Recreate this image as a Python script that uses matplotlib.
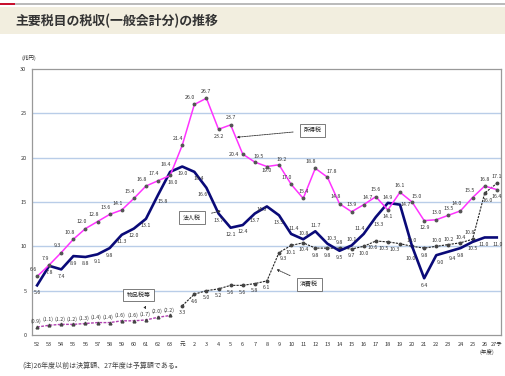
import numpy as np
import matplotlib.pyplot as plt
from matplotlib.patches import Rectangle

plt.rcParams['font.family'] = ['Noto Sans CJK JP', 'DejaVu Sans']

# 年度
years = ['52', '53', '54', '55', '56', '57', '58', '59', '60', '61', '62', '63', '元',
         '2', '3', '4', '5', '6', '7', '8', '9', '10', '11', '12', '13', '14', '15',
         '16', '17', '18', '19', '20', '21', '22', '23', '24', '25', '26', '27予']

# 所得税
income = [6.6, 7.9, 9.3, 10.8, 12.0, 12.8, 13.6, 14.1, 15.4, 16.8, 17.4, 18.0, 21.4,
          26.0, 26.7, 23.2, 23.7, 20.4, 19.5, 19.0, 19.2, 17.0, 15.4, 18.8, 17.8, 14.8, 13.9,
          14.7, 15.6, 14.1, 16.1, 15.0, 12.9, 13.0, 13.5, 14.0, 15.5, 16.8, 16.4]
# 法人税
corp = [5.6, 7.8, 7.4, 8.9, 8.8, 9.1, 9.8, 11.3, 12.0, 13.1, 15.8, 18.4, 19.0,
        18.4, 16.6, 13.7, 12.1, 12.4, 13.7, 14.5, 13.5, 11.4, 10.8, 11.7, 10.3, 9.5, 10.1,
        11.4, 13.3, 14.9, 14.7, 10.0, 6.4, 9.0, 9.4, 9.8, 10.5, 11.0, 11.0]
# 消費税 (元年度から)
cons = [3.3, 4.6, 5.0, 5.2, 5.6, 5.6, 5.8, 6.1, 9.3, 10.1, 10.4, 9.8, 9.8, 9.8, 9.7,
        10.0, 10.6, 10.5, 10.3, 10.0, 9.8, 10.0, 10.2, 10.4, 10.8, 16.0, 17.1]
# 物品税等 (63年度まで)
goods = [0.9, 1.1, 1.2, 1.2, 1.3, 1.4, 1.4, 1.6, 1.6, 1.7, 2.0, 2.2]

x = np.arange(len(years))
x_cons = x[12:]
x_goods = x[:12]

fig = plt.figure(figsize=(5.06, 3.76), dpi=100)

# タイトル帯
fig.patches.append(Rectangle((0, 1 - 34 / 376), 1, 27 / 376, transform=fig.transFigure,
                             facecolor='#F2EEDF', edgecolor='none'))
fig.patches.append(Rectangle((0, 1 - 5 / 376), 1, 2 / 376, transform=fig.transFigure,
                             facecolor='#BBBBBB', edgecolor='none'))
fig.patches.append(Rectangle((0, 1 - 5 / 376), 15 / 506, 2 / 376, transform=fig.transFigure,
                             facecolor='#C8102E', edgecolor='none'))
fig.text(15 / 506, 1 - 21 / 376, '主要税目の税収(一般会計分)の推移', fontsize=9.3,
         fontweight='bold', color='#333333', va='center')

ax = fig.add_axes([32 / 506, 1 - 335 / 376, 469 / 506, 266 / 376])
ax.set_xlim(-0.42, 38.35)
ax.set_ylim(0, 30)
ax.set_yticks([0, 5, 10, 15, 20, 25, 30])
ax.set_xticks(x)
ax.set_xticklabels(years)
ax.tick_params(labelsize=4, colors='#333333', length=0, pad=4)
ax.tick_params(axis='x', pad=5)
for s in ax.spines.values():
    s.set_color('#999999')
    s.set_linewidth(0.9)
for v in [5, 10, 15, 20, 25]:
    ax.axhline(v, color='#B9CDE8', lw=1, zorder=0)

ax.plot(x_goods, goods, color='#B040B0', lw=1, ls=(0, (2, 1)), marker='^', ms=2,
        mfc='#444444', mec='#444444', zorder=3)
ax.plot(x_cons, cons, color='#222222', lw=0.8, ls=(0, (2, 1)), marker='o', ms=1.8,
        mfc='#444444', mec='#444444', zorder=3)
ax.plot(x, corp, color='#0A0A78', lw=1.9, zorder=4)
ax.plot(x, income, color='#FF33FF', lw=1.1, marker='o', ms=1.8, mfc='#555555',
        mec='#555555', zorder=5)

fs = 3.8
tc = '#333333'


def put_labels(xs, vals, default, over, fmt='{:.1f}'):
    for i, (xi, v) in enumerate(zip(xs, vals)):
        dx, dy = over.get(i, default)
        ax.annotate(fmt.format(v), (xi, v), xytext=(dx, dy), textcoords='offset points',
                    ha='center', va='center', fontsize=fs, color=tc, zorder=6)


put_labels(x, income, (-3, 5), {
    11: (2, -5), 13: (-3, 5), 14: (0, 5), 15: (0, -5), 16: (0, 5), 17: (-6, 0),
    18: (3, 4), 19: (0, -3), 20: (2, 4), 22: (0, 5), 24: (3, 4), 26: (0, 5),
    27: (3, 5), 28: (0, 5), 29: (0, -5), 30: (0, 5), 31: (3, 4), 32: (0, -5),
    33: (0, 5), 34: (0, 5), 36: (-2, 5), 37: (0, 5), 38: (0, -5)})
put_labels(x, corp, (0, -5), {
    1: (0, -5), 3: (0, -5), 9: (0, -5), 10: (3, -5), 11: (-3, 5), 13: (3, -5),
    14: (-3, -5), 19: (-4, -2), 21: (2, 4), 22: (0, 4), 23: (0, 4), 24: (3, 4),
    26: (0, 4), 27: (-3, 4), 28: (2, -5), 29: (0, 4), 30: (4, 0), 31: (-1, -9),
    33: (3, -5), 34: (3, -5), 37: (-1, -5), 38: (1, -5)})
put_labels(x_cons, cons, (0, -5), {
    8: (3, -4), 13: (0, 4), 16: (-2, -5), 17: (-3, -5), 18: (-4, -4), 19: (0, 4),
    21: (0, 4), 22: (0, 4), 23: (0, 4), 24: (-2, 5), 25: (2, -5), 26: (0, 5)})
put_labels(x_goods, goods, (-1, 4), {}, fmt='({:.1f})')


def label_box(text, xy_box, xy_pt):
    ax.annotate(text, xy=xy_pt, xytext=xy_box, textcoords='data', fontsize=4.3,
                color='#222222', ha='center', va='center', zorder=7,
                bbox=dict(boxstyle='square,pad=0.6', fc='white', ec='#666666', lw=0.6),
                arrowprops=dict(arrowstyle='-|>', ls=(0, (2, 1)), lw=0.6,
                                color='#333333', mutation_scale=3, shrinkA=5, shrinkB=0))


label_box('所得税', (22.8, 23.1), (16.5, 22.3))
label_box('法人税', (12.8, 13.2), (15.2, 14.0))
label_box('消費税', (22.5, 5.7), (19.8, 7.4))
label_box('物品税等', (8.4, 4.5), (9.0, 2.9))

fig.text(22 / 506, 1 - 58 / 376, '(兆円)', fontsize=4, color=tc, va='center')
fig.text(480 / 506, 1 - 352 / 376, '(年度)', fontsize=4, color=tc, va='center')
fig.text(22 / 506, 1 - 366 / 376, '(注)26年度以前は決算額、27年度は予算額である。',
         fontsize=5, color='#444444', va='center')

fig.savefig('out.png', dpi=100)
